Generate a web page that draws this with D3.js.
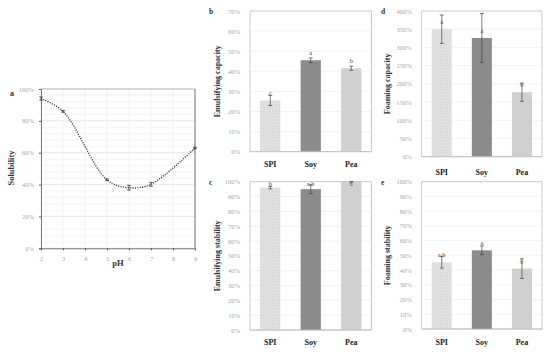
<!DOCTYPE html>
<html><head><meta charset="utf-8">
<script src="https://cdn.jsdelivr.net/npm/d3@7"></script>
<style>body{margin:0;background:#fff}svg{display:block}</style>
</head><body>
<svg id="c" width="550" height="352"></svg>
<script>
// ---- data ----
const phValues = [2, 3, 5, 6, 7, 9];
const solubility = [94, 86, 43, 38, 40.2, 63];
const solubilityErr = [1, 0.5, 0.5, 1.5, 1.2, 0.5];
const proteins = ["SPI", "Soy", "Pea"];
const emulsCapacity = [25.5, 45.5, 41.5];
const emulsCapacityErr = [2.5, 1.2, 1];
const emulsCapacityLetters = ["c", "a", "b"];
const foamCapacity = [350, 326, 177];
const foamCapacityErr = [39, 67, 25];
const foamCapacityLetters = ["a", "a", "b"];
const emulsStability = [96, 95, 100];
const emulsStabilityErr = [0.8, 3, 0.3];
const emulsStabilityLetters = ["b", "a,b", "a"];
const foamStability = [45.3, 53.4, 41];
const foamStabilityErr = [4, 3, 6.7];
const foamStabilityLetters = ["a,b", "a", "b"];

const svg = d3.select("#c");
const serif = "'Liberation Serif','DejaVu Serif',serif";
const tickColor = "#a6a6a6";
const barColors = {SPI: "url(#spiPat)", Soy: "#8c8c8c", Pea: "#d0d0d0"};

const defs = svg.append("defs");
const pat = defs.append("pattern").attr("id", "spiPat").attr("patternUnits", "userSpaceOnUse")
  .attr("width", 3).attr("height", 3);
pat.append("rect").attr("width", 3).attr("height", 3).attr("fill", "#e6e6e6");
pat.append("path").attr("d", "M0,0L3,3M3,0L0,3").attr("stroke", "#d2d2d2").attr("stroke-width", 0.6);

function pct(v){ return v + "%"; }

// ---- panel a ----
(function(){
  const x0 = 41, x1 = 195, y0 = 89, y1 = 248.3;
  const x = d3.scaleLinear().domain([2, 9]).range([x0, x1]);
  const y = d3.scaleLinear().domain([0, 100]).range([y1, y0]);
  const g = svg.append("g");
  g.selectAll(".mg").data(d3.range(0, 101, 4)).join("line")
    .attr("x1", x0).attr("x2", x1).attr("y1", d => y(d)).attr("y2", d => y(d))
    .attr("stroke", "#f0f0f0").attr("stroke-width", 0.6);
  g.selectAll(".vg").data(d3.range(2, 10)).join("line")
    .attr("x1", d => x(d)).attr("x2", d => x(d)).attr("y1", y0).attr("y2", y1)
    .attr("stroke", "#ececec").attr("stroke-width", 0.6);
  g.selectAll(".hg").data(d3.range(0, 101, 20)).join("line")
    .attr("x1", x0).attr("x2", x1).attr("y1", d => y(d)).attr("y2", d => y(d))
    .attr("stroke", "#e2e2e2").attr("stroke-width", 0.7);
  g.append("line").attr("x1", x0).attr("x2", x1).attr("y1", y0).attr("y2", y0).attr("stroke", "#bdbdbd").attr("stroke-width", 1);
  g.append("line").attr("x1", x1).attr("x2", x1).attr("y1", y0).attr("y2", y1).attr("stroke", "#555").attr("stroke-width", 0.8);
  const ya = g.append("g").attr("transform", `translate(${x0},0)`)
    .call(d3.axisLeft(y).tickValues(d3.range(0, 101, 20)).tickFormat(pct).tickSize(2).tickPadding(5));
  ya.select(".domain").attr("stroke", "#555").attr("stroke-width", 0.8);
  ya.selectAll(".tick line").attr("stroke", "#555");
  ya.selectAll("text").attr("fill", tickColor).attr("font-family", serif).attr("font-size", 6.5);
  const xa = g.append("g").attr("transform", `translate(0,${y1})`)
    .call(d3.axisBottom(x).tickValues(d3.range(2, 10)).tickFormat(d3.format("d")).tickSize(2).tickPadding(6));
  xa.select(".domain").attr("stroke", "#555").attr("stroke-width", 0.8);
  xa.selectAll(".tick line").attr("stroke", "#555");
  xa.selectAll("text").attr("fill", tickColor).attr("font-family", serif).attr("font-size", 6.5);
  const pts = phValues.map((p, i) => [x(p), y(solubility[i])]);
  g.append("path").attr("d", d3.line().curve(d3.curveCatmullRom.alpha(0.5))(pts))
    .attr("fill", "none").attr("stroke", "#404040").attr("stroke-width", 1.3).attr("stroke-dasharray", "1.2,1.2");
  phValues.forEach((p, i) => {
    const cx = x(p), t = y(solubility[i] + solubilityErr[i]), b = y(solubility[i] - solubilityErr[i]);
    g.append("line").attr("x1", cx).attr("x2", cx).attr("y1", t).attr("y2", b).attr("stroke", "#333").attr("stroke-width", 0.8);
    [t, b].forEach(yy => g.append("line").attr("x1", cx - 1.8).attr("x2", cx + 1.8).attr("y1", yy).attr("y2", yy).attr("stroke", "#333").attr("stroke-width", 0.8));
  });
  g.append("text").attr("x", 118).attr("y", 266).attr("text-anchor", "middle").attr("font-family", serif)
    .attr("font-weight", "bold").attr("font-size", 8.5).attr("fill", "#333").text("pH");
  g.append("text").attr("transform", "translate(14,168) rotate(-90)").attr("text-anchor", "middle").attr("font-family", serif)
    .attr("font-weight", "bold").attr("font-size", 8.5).attr("fill", "#333").text("Solubility");
  g.append("text").attr("x", 10).attr("y", 96).attr("font-family", serif)
    .attr("font-weight", "bold").attr("font-size", 8).attr("fill", "#333").text("a");
})();

// ---- bar panels ----
function barPanel(o){
  const {x0, x1, y0, y1, max, step, values, errs, letters, title, tag, tagX, titleX, catY, fmt} = o;
  const x = d3.scaleBand().domain(proteins).range([x0, x1]).paddingInner(0.5).paddingOuter(0.25);
  const y = d3.scaleLinear().domain([0, max]).range([y1, y0]);
  const g = svg.append("g");
  g.selectAll(".hg").data(d3.range(step, max, step)).join("line")
    .attr("x1", x0).attr("x2", x1).attr("y1", d => y(d)).attr("y2", d => y(d))
    .attr("stroke", "#ebebeb").attr("stroke-width", 0.6);
  g.append("rect").attr("x", x0).attr("y", y0).attr("width", x1 - x0).attr("height", y1 - y0)
    .attr("fill", "none").attr("stroke", "#bfbfbf").attr("stroke-width", 0.8);
  const ya = g.append("g").attr("transform", `translate(${x0},0)`)
    .call(d3.axisLeft(y).tickValues(d3.range(0, max + 1, step)).tickFormat(fmt).tickSize(0).tickPadding(10));
  ya.select(".domain").remove();
  ya.selectAll("text").attr("fill", tickColor).attr("font-family", serif).attr("font-size", 6.5);
  g.selectAll(".bar").data(proteins).join("rect")
    .attr("x", d => x(d)).attr("width", x.bandwidth())
    .attr("y", (d, i) => y(values[i])).attr("height", (d, i) => y1 - y(values[i]))
    .attr("fill", d => barColors[d]);
  g.append("line").attr("x1", x0).attr("x2", x1).attr("y1", y1).attr("y2", y1).attr("stroke", "#bfbfbf").attr("stroke-width", 0.8);
  proteins.forEach((p, i) => {
    const cx = x(p) + x.bandwidth() / 2;
    const t = y(Math.min(max, values[i] + errs[i])), b = y(values[i] - errs[i]);
    g.append("line").attr("x1", cx).attr("x2", cx).attr("y1", t).attr("y2", b).attr("stroke", "#444").attr("stroke-width", 0.7);
    [t, b].forEach(yy => g.append("line").attr("x1", cx - 2).attr("x2", cx + 2).attr("y1", yy).attr("y2", yy).attr("stroke", "#444").attr("stroke-width", 0.7));
    const ly = Math.max(y0 + 4, y(values[i]) - 5);
    g.append("text").attr("x", cx).attr("y", ly).attr("text-anchor", "middle").attr("font-family", serif)
      .attr("font-size", 6.5).attr("fill", "#444").text(letters[i]);
    g.append("text").attr("x", cx).attr("y", catY).attr("text-anchor", "middle").attr("font-family", serif)
      .attr("font-weight", "bold").attr("font-size", 8).attr("fill", "#222").text(p);
  });
  g.append("text").attr("transform", `translate(${titleX},${(y0 + y1) / 2}) rotate(-90)`).attr("text-anchor", "middle")
    .attr("font-family", serif).attr("font-weight", "bold").attr("font-size", 8).attr("fill", "#333").text(title);
  g.append("text").attr("x", tagX).attr("y", y0 + 3).attr("font-family", serif)
    .attr("font-weight", "bold").attr("font-size", 7.5).attr("fill", "#333").text(tag);
}

barPanel({x0: 250, x1: 371.5, y0: 11, y1: 151.7, max: 70, step: 10, values: emulsCapacity, errs: emulsCapacityErr,
  letters: emulsCapacityLetters, title: "Emulsifying capacity", tag: "b", tagX: 209, titleX: 220, catY: 167, fmt: pct});
barPanel({x0: 421.7, x1: 542, y0: 11, y1: 156.7, max: 400, step: 50, values: foamCapacity, errs: foamCapacityErr,
  letters: foamCapacityLetters, title: "Foaming capacity", tag: "d", tagX: 381, titleX: 390, catY: 175, fmt: pct});
barPanel({x0: 250, x1: 371.5, y0: 181.7, y1: 330, max: 100, step: 10, values: emulsStability, errs: emulsStabilityErr,
  letters: emulsStabilityLetters, title: "Emulsifying stability", tag: "c", tagX: 209, titleX: 220, catY: 345, fmt: pct});
barPanel({x0: 421.7, x1: 542, y0: 181.7, y1: 329, max: 100, step: 10, values: foamStability, errs: foamStabilityErr,
  letters: foamStabilityLetters, title: "Foaming stability", tag: "e", tagX: 381, titleX: 390, catY: 345, fmt: pct});
</script>
</body></html>
